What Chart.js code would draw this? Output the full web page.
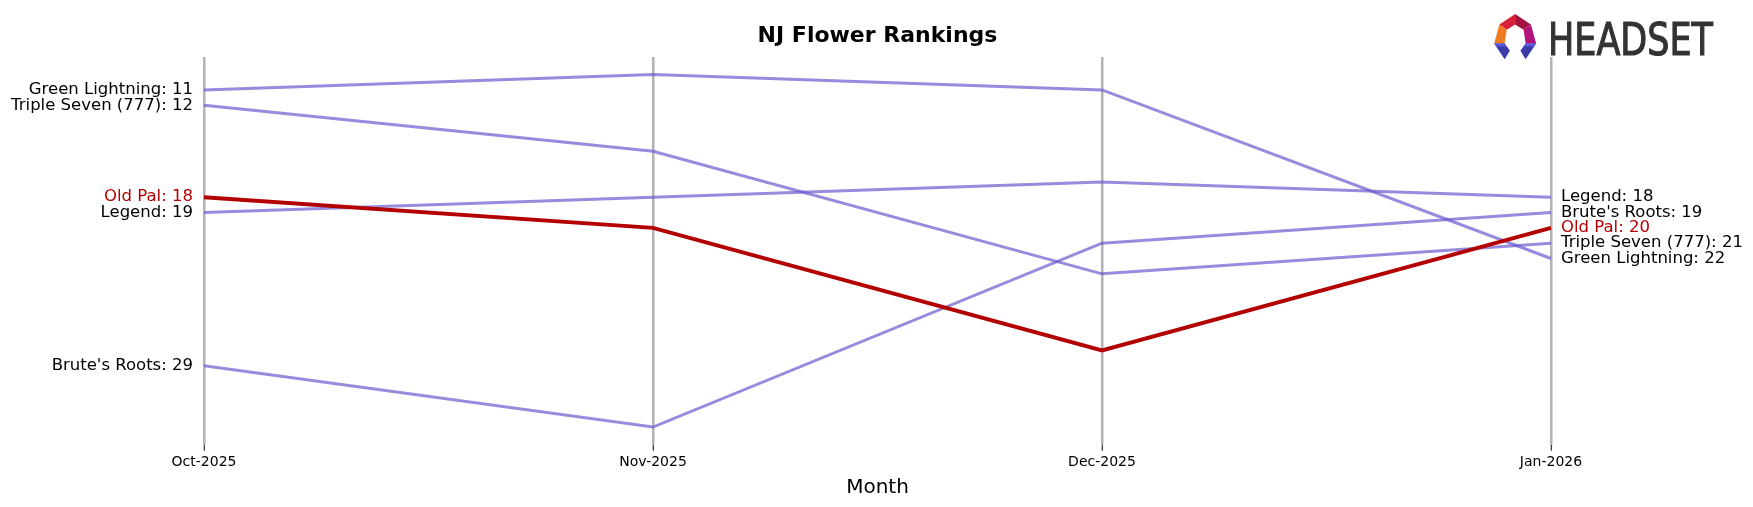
<!DOCTYPE html>
<html>
<head>
<meta charset="utf-8">
<script src="https://cdn.jsdelivr.net/npm/chart.js@4/dist/chart.umd.min.js"></script>
<style>
  html, body { margin: 0; padding: 0; background: #fff; }
  #wrap { position: relative; width: 1753px; height: 507px; }
  #logo { position: absolute; left: 1491px; top: 14px; }
</style>
</head>
<body>
<div id="wrap">
  <canvas id="rankChart" width="1753" height="507"></canvas>
  <svg id="logo" width="232" height="46" viewBox="0 0 232 46">
    <g transform="scale(1.05)">
      <polygon points="8,10 23,0 23,10 15,15" fill="#d8203a"/>
      <polygon points="23,0 38,10 31,15 23,10" fill="#a3123e"/>
      <polygon points="8,10 15,15 13,28 3,28" fill="#f07c22"/>
      <polygon points="38,10 43,28 33,28 31,15" fill="#b3127a"/>
      <polygon points="3,28 13,28 18,35 13,43" fill="#3a3aa8"/>
      <polygon points="3,28 13,28 15,31 6,31" fill="#5a5ad8"/>
      <polygon points="43,28 33,28 28,35 33,43" fill="#3a3aa8"/>
      <polygon points="43,28 33,28 31,31 40,31" fill="#5a5ad8"/>
    </g>
    <text x="57" y="41" font-family="DejaVu Sans" font-size="45" fill="#333333"
          stroke="#333333" stroke-width="1.2"
          textLength="165" lengthAdjust="spacingAndGlyphs">HEADSET</text>
  </svg>
</div>
<script>
// months on the x axis
var months = ["Oct-2025", "Nov-2025", "Dec-2025", "Jan-2026"];

// monthly rank per strain (lower = better)
var greenLightning = [11, 10, 11, 22];
var tripleSeven = [12, 15, 23, 21];
var oldPal = [18, 20, 28, 20];
var legend = [19, 18, 17, 18];
var brutesRoots = [29, 33, 21, 19];

var purple = "rgba(106,90,205,0.7)";
var red = "#b30000";

function makeSet(name, values, color, width, order) {
    return {
        label: name,
        data: values,
        borderColor: color,
        borderWidth: width,
        pointRadius: 0,
        tension: 0,
        fill: false,
        order: order
    };
}

/*
 end labels: "Name: rank" at first and last month
 */
var endLabels = {
    id: "endLabels",
    afterDatasetsDraw: function (chart) {
        var ctx = chart.ctx;
        ctx.save();
        ctx.font = "16.5px 'DejaVu Sans'";
        ctx.textBaseline = "middle";
        chart.data.datasets.forEach(function (ds, i) {
            var meta = chart.getDatasetMeta(i);
            var first = meta.data[0];
            var last = meta.data[meta.data.length - 1];
            ctx.fillStyle = ds.label == "Old Pal" ? red : "#000000";
            ctx.textAlign = "right";
            ctx.fillText(ds.label + ": " + ds.data[0], first.x - 11, first.y);
            ctx.textAlign = "left";
            ctx.fillText(ds.label + ": " + ds.data[ds.data.length - 1], last.x + 10, last.y);
        });
        ctx.restore();
    }
};

var rankChart = new Chart(document.getElementById("rankChart").getContext("2d"), {
    type: "line",
    data: {
        labels: months,
        datasets: [
            makeSet("Old Pal", oldPal, red, 4, 0),
            makeSet("Green Lightning", greenLightning, purple, 3, 1),
            makeSet("Triple Seven (777)", tripleSeven, purple, 3, 1),
            makeSet("Legend", legend, purple, 3, 1),
            makeSet("Brute's Roots", brutesRoots, purple, 3, 1)
        ]
    },
    options: {
        responsive: false,
        animation: false,
        layout: { padding: { left: 204, right: 202, top: 0, bottom: 0 } },
        plugins: {
            legend: { display: false },
            tooltip: { enabled: false },
            title: {
                display: true,
                text: "NJ Flower Rankings",
                color: "#000000",
                font: { family: "DejaVu Sans", size: 22, weight: "bold" },
                padding: { top: 23, bottom: 7.6 }
            }
        },
        scales: {
            x: {
                type: "category",
                offset: false,
                border: { display: false },
                grid: {
                    offset: false,
                    color: "rgba(128,128,128,0.6)",
                    lineWidth: 2.5,
                    drawTicks: true,
                    tickLength: 6,
                    tickColor: "#000000",
                    tickWidth: 1
                },
                ticks: {
                    color: "#000000",
                    padding: 3,
                    maxRotation: 0,
                    font: { family: "DejaVu Sans", size: 14 }
                },
                title: {
                    display: true,
                    text: "Month",
                    color: "#000000",
                    font: { family: "DejaVu Sans", size: 20 },
                    padding: { top: 2, bottom: 7.5 }
                }
            },
            y: {
                display: false,
                reverse: true,
                min: 8.85,
                max: 34.15
            }
        }
    },
    plugins: [endLabels]
});
</script>
</body>
</html>
